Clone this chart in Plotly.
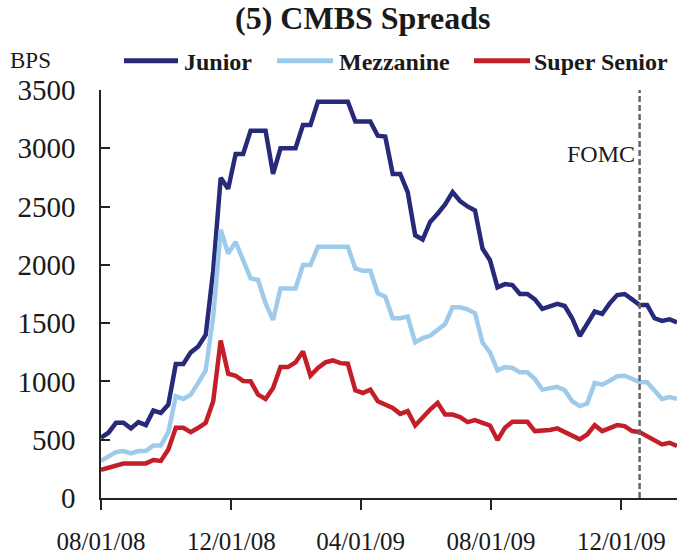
import pandas as pd
import plotly.graph_objects as go

# ---- data (weekly, from 08/01/08) ----
start_date = "2008-08-01"
n_weeks = 78
dates = pd.date_range(start_date, periods=n_weeks, freq="7D")

junior = [517, 560, 645, 645, 597, 651, 625, 750, 730, 801,
          1149, 1149, 1249, 1300, 1400, 1950, 2746, 2652, 2951, 2951,
          3151, 3151, 3151, 2780, 3000, 3000, 3000, 3200, 3200, 3400,
          3400, 3400, 3400, 3400, 3230, 3230, 3230, 3108, 3100, 2780,
          2780, 2624, 2254, 2217, 2368, 2439, 2519, 2624, 2548, 2501,
          2467, 2140, 2040, 1807, 1835, 1826, 1750, 1750, 1704, 1622,
          1642, 1665, 1647, 1540, 1390, 1490, 1600, 1579, 1670, 1741,
          1750, 1704, 1656, 1656, 1542, 1519, 1533, 1505]

mezzanine = [318, 355, 394, 403, 383, 403, 403, 451, 451, 565,
             873, 850, 887, 987, 1095, 1556, 2302, 2097, 2197, 2040,
             1884, 1870, 1670, 1528, 1798, 1798, 1798, 1998, 1998, 2155,
             2155, 2155, 2155, 2155, 1969, 1949, 1949, 1756, 1727, 1542,
             1542, 1556, 1334, 1371, 1391, 1442, 1493, 1636, 1636, 1619,
             1585, 1334, 1249, 1095, 1123, 1115, 1078, 1078, 1020, 930,
             944, 953, 924, 830, 788, 810, 987, 972, 1006, 1044,
             1049, 1021, 995, 993, 916, 850, 865, 850]

super_senior = [241, 261, 280, 295, 297, 297, 297, 326, 318, 417,
                602, 602, 565, 602, 645, 830, 1351, 1066, 1049, 1004,
                1001, 887, 850, 944, 1123, 1123, 1163, 1257, 1049, 1115,
                1163, 1180, 1157, 1152, 924, 901, 930, 830, 805, 773,
                722, 745, 622, 696, 759, 816, 716, 716, 694, 651,
                668, 645, 622, 497, 602, 654, 654, 654, 574, 574,
                583, 597, 565, 531, 503, 545, 625, 574, 602, 625,
                617, 574, 565, 531, 503, 460, 474, 446]

series_names = ["Junior", "Mezzanine", "Super Senior"]
series_colors = ["#262A78", "#9ECBEC", "#C41E28"]

tick_dates = ["2008-08-01", "2008-12-01", "2009-04-01", "2009-08-01", "2009-12-01"]
tick_labels = ["08/01/08", "12/01/08", "04/01/09", "08/01/09", "12/01/09"]
y_ticks = [0, 500, 1000, 1500, 2000, 2500, 3000, 3500]
fomc_date = "2009-12-18"
x_end = "2010-01-22"

FONT = "Liberation Serif"

fig = go.Figure()
for name, vals, col in zip(series_names, [junior, mezzanine, super_senior], series_colors):
    fig.add_trace(go.Scatter(x=dates, y=vals, mode="lines", name=name,
                             line=dict(color=col, width=4.5), showlegend=False))

fig.update_layout(
    width=677, height=555,
    margin=dict(l=101, r=0, t=90, b=55),
    paper_bgcolor="white", plot_bgcolor="white",
    font=dict(family=FONT, color="#1a1a1a"),
)

fig.update_xaxes(
    range=[start_date, x_end], type="date",
    tickvals=tick_dates, ticktext=tick_labels,
    showgrid=False, zeroline=False, showline=True, linecolor="#222", linewidth=1.6,
    ticks="outside", ticklen=10, tickwidth=1.6, tickcolor="#222",
    tickfont=dict(size=25, family=FONT, color="#1a1a1a"), ticklabelstandoff=10,
)
fig.update_yaxes(
    range=[0, 3500], tickvals=y_ticks,
    showgrid=False, zeroline=False, showline=True, linecolor="#222", linewidth=1.6,
    ticks="inside", ticklen=9, tickwidth=1.6, tickcolor="#222",
    tickfont=dict(size=29, family=FONT, color="#1a1a1a"), ticklabelstandoff=18,
)

# FOMC line
fig.add_shape(type="line", xref="x", yref="paper", x0=fomc_date, x1=fomc_date, y0=0, y1=1,
              line=dict(color="#666666", width=2.5, dash="6px,3px"))
fig.add_annotation(xref="x", yref="paper", x=fomc_date, y=(500.5 - 155) / 410,
                   text="FOMC", showarrow=False, xanchor="right", yanchor="middle",
                   xshift=-3, font=dict(size=24, family=FONT, color="#1a1a1a"))


def px_x(p):
    return (p - 101) / 576


def px_y(p):
    return (500.5 - p) / 410


# Title
fig.add_annotation(xref="paper", yref="paper", x=px_x(362), y=px_y(18),
                   text="<b>(5) CMBS Spreads</b>", showarrow=False,
                   xanchor="center", yanchor="middle",
                   font=dict(size=32, family=FONT, color="#1a1a1a"))

# BPS unit label
fig.add_annotation(xref="paper", yref="paper", x=px_x(8), y=px_y(61),
                   text="BPS", showarrow=False, xanchor="left", yanchor="middle",
                   font=dict(size=23, family=FONT, color="#1a1a1a"))

# Legend (manual)
legend_pos = [(124, 178, 182), (277, 333, 337), (474, 530, 532)]
for (x0, x1, xt), name, col in zip(legend_pos, series_names, series_colors):
    fig.add_shape(type="line", xref="paper", yref="paper",
                  x0=px_x(x0), x1=px_x(x1), y0=px_y(61), y1=px_y(61),
                  line=dict(color=col, width=5))
    fig.add_annotation(xref="paper", yref="paper", x=px_x(xt), y=px_y(62),
                       text="<b>" + name + "</b>", showarrow=False,
                       xanchor="left", yanchor="middle",
                       font=dict(size=24, family=FONT, color="#1a1a1a"))

fig.write_html("out.html", config={"displayModeBar": False},
               post_script="document.body.style.margin='0';document.body.style.overflow='hidden';")
